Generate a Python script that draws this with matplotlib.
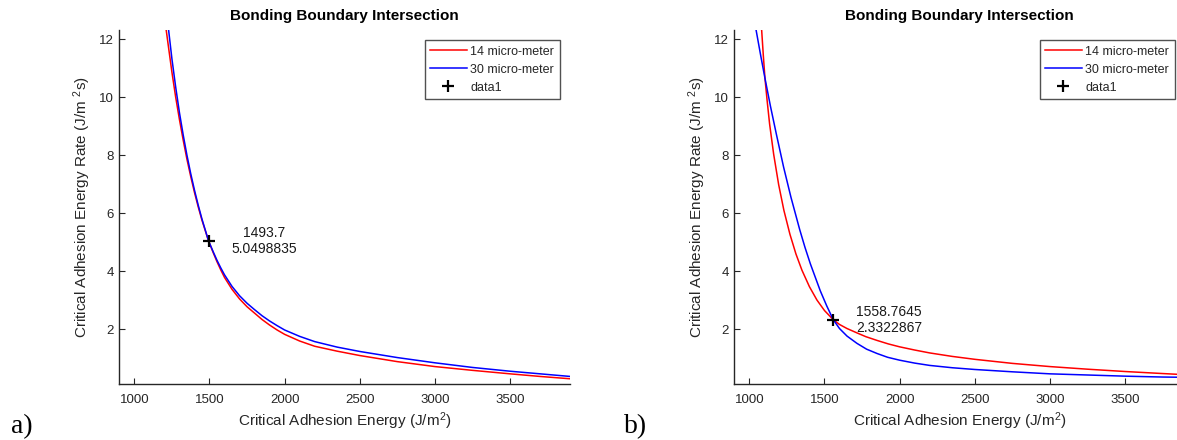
import matplotlib
matplotlib.use("Agg")
import matplotlib.pyplot as plt

plt.rcParams['font.family'] = ['Liberation Sans', 'DejaVu Sans']
plt.rcParams['mathtext.fontset'] = 'custom'
plt.rcParams['mathtext.rm'] = 'Liberation Sans'
plt.rcParams['mathtext.default'] = 'regular'

# ---- panel a) ----
a_x_14 = [1200, 1212, 1230, 1250, 1275, 1300, 1325, 1350, 1375, 1400, 1425, 1450,
          1493.7, 1525, 1550, 1575, 1600, 1650, 1700, 1750, 1800, 1850, 1900, 1950,
          2000, 2100, 2200, 2350, 2500, 2750, 3000, 3250, 3500, 3700, 3900]
a_y_14 = [12.81, 12.31, 11.62, 10.86, 10.0, 9.23, 8.52, 7.86, 7.27, 6.72, 6.22, 5.76,
          5.0498835, 4.64, 4.33, 4.05, 3.79, 3.38, 3.05, 2.78, 2.56, 2.34, 2.15, 1.98,
          1.83, 1.60, 1.42, 1.25, 1.10, 0.89, 0.72, 0.59, 0.47, 0.38, 0.30]
a_x_30 = [1215, 1228, 1250, 1275, 1300, 1325, 1350, 1375, 1400, 1425, 1450,
          1493.7, 1525, 1550, 1575, 1600, 1650, 1700, 1750, 1800, 1850, 1900, 1950,
          2000, 2100, 2200, 2350, 2500, 2750, 3000, 3250, 3500, 3700, 3900]
a_y_30 = [12.8, 12.31, 11.32, 10.35, 9.47, 8.70, 8.0, 7.37, 6.80, 6.28, 5.80,
          5.0498835, 4.67, 4.38, 4.12, 3.88, 3.48, 3.16, 2.90, 2.68, 2.47, 2.29, 2.13,
          1.98, 1.76, 1.58, 1.39, 1.24, 1.03, 0.85, 0.69, 0.56, 0.47, 0.38]
a_cross = (1493.7, 5.0498835)

# ---- panel b) ----
b_x_14 = [1076, 1082, 1093, 1104, 1118, 1135, 1162, 1195, 1230, 1270, 1310, 1350,
          1400, 1450, 1500, 1558.7645, 1600, 1650, 1716, 1775, 1850, 1925, 2000,
          2100, 2200, 2350, 2500, 2750, 3000, 3250, 3500, 3750, 3900]
b_y_14 = [12.8, 12.31, 11.44, 10.65, 9.9, 9.07, 8.03, 6.99, 6.10, 5.28, 4.60, 4.04,
          3.47, 3.01, 2.65, 2.3322867, 2.17, 2.03, 1.88, 1.75, 1.62, 1.50, 1.40,
          1.29, 1.19, 1.07, 0.97, 0.83, 0.72, 0.63, 0.55, 0.48, 0.44]
b_x_30 = [1030, 1045, 1075, 1104, 1140, 1180, 1228, 1277, 1335, 1370, 1406, 1440,
          1472, 1515, 1558.7645, 1600, 1650, 1716, 1780, 1850, 1920, 2000, 2100,
          2200, 2350, 2500, 2750, 3000, 3250, 3500, 3750, 3900]
b_y_30 = [12.73, 12.31, 11.45, 10.65, 9.7, 8.72, 7.59, 6.55, 5.44, 4.83, 4.26, 3.78,
          3.33, 2.81, 2.3322867, 2.03, 1.77, 1.52, 1.32, 1.17, 1.04, 0.94, 0.84,
          0.76, 0.68, 0.62, 0.54, 0.47, 0.43, 0.39, 0.36, 0.35]
b_cross = (1558.7645, 2.3322867)

series_names = ['14 micro-meter', '30 micro-meter', 'data1']
x_ticks = [1000, 1500, 2000, 2500, 3000, 3500]
y_ticks = [2, 4, 6, 8, 10, 12]
title = 'Bonding Boundary Intersection'
x_label = r'Critical Adhesion Energy (J/m$^{2}$)'
y_label = r'Critical Adhesion Energy Rate (J/m $^{2}$s)'

AX_COL = '#262626'

fig = plt.figure(figsize=(11.77, 4.40), dpi=100)
ax_a = fig.add_axes([0.10136, 0.12727, 0.38309, 0.80455])
ax_b = fig.add_axes([0.62387, 0.12727, 0.38309, 0.80455])


def draw_panel(ax, x14, y14, x30, y30, cross, label_text):
    ax.plot(x14, y14, color='#ff0000', lw=1.1, label=series_names[0])
    ax.plot(x30, y30, color='#0000ff', lw=1.1, label=series_names[1])
    ax.plot([cross[0]], [cross[1]], linestyle='none', marker='+', color='black',
            markersize=9, mew=1.6, label=series_names[2])
    ax.text(cross[0] + 370, cross[1], label_text, ha='center', va='center',
            multialignment='center', fontsize=10, color='#1a1a1a', linespacing=1.15)
    ax.set_xlim(900, 3900)
    ax.set_ylim(0.12, 12.31)
    ax.set_xticks(x_ticks)
    ax.set_yticks(y_ticks)
    for side in ('top', 'right'):
        ax.spines[side].set_visible(False)
    for side in ('left', 'bottom'):
        ax.spines[side].set_color(AX_COL)
        ax.spines[side].set_linewidth(1.0)
    ax.tick_params(direction='in', length=4, width=0.8, color=AX_COL,
                   labelcolor=AX_COL, labelsize=9.5)
    ax.tick_params(axis='x', pad=7)
    ax.tick_params(axis='y', pad=4)
    ax.set_title(title, fontsize=11, fontweight='bold', color='black', pad=7)
    ax.set_xlabel(x_label, fontsize=11, color=AX_COL)
    ax.set_ylabel(y_label, fontsize=11, color=AX_COL)
    ax.xaxis.set_label_coords(0.5, -0.075)
    ax.yaxis.set_label_coords(-0.058, 0.5)
    leg = ax.legend(loc='upper right', bbox_to_anchor=(0.977, 0.972), fontsize=9,
                    frameon=True, fancybox=False, handlelength=2.9,
                    handletextpad=0.3, borderpad=0.45, labelspacing=0.48,
                    borderaxespad=0.0)
    leg.get_frame().set_edgecolor(AX_COL)
    leg.get_frame().set_linewidth(1.0)
    for t in leg.get_texts():
        t.set_color(AX_COL)


draw_panel(ax_a, a_x_14, a_y_14, a_x_30, a_y_30, a_cross,
           '1493.7\n5.0498835')
draw_panel(ax_b, b_x_14, b_y_14, b_x_30, b_y_30, b_cross,
           '1558.7645\n2.3322867')

fig.text(11 / 1177, 1 - 433 / 440, 'a)', family='Liberation Serif', fontsize=20,
         ha='left', va='baseline', color='black')
fig.text(624 / 1177, 1 - 433 / 440, 'b)', family='Liberation Serif', fontsize=20,
         ha='left', va='baseline', color='black')

fig.savefig('out.png', dpi=100)
